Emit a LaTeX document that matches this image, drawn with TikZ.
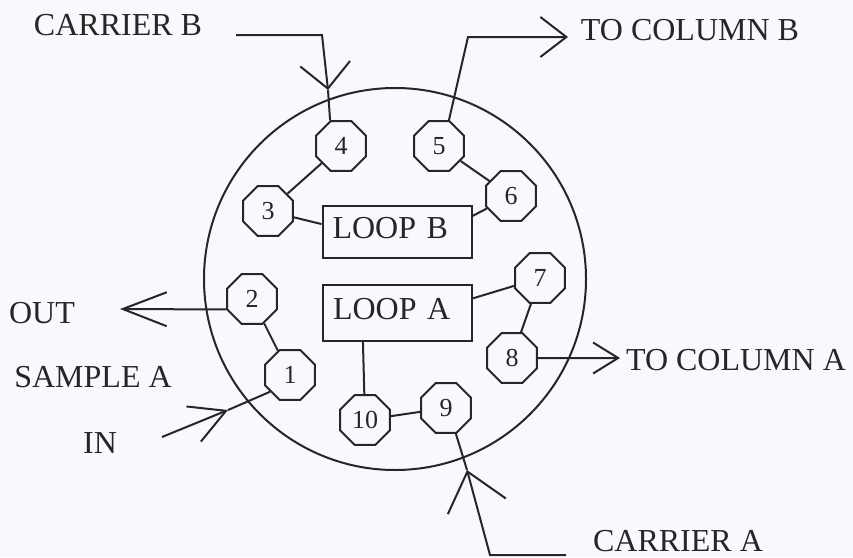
\documentclass[tikz,border=0pt]{standalone}
\usepackage{fontspec}
\setmainfont{Liberation Serif}
\usetikzlibrary{arrows.meta,positioning,shapes.geometric}
\definecolor{paper}{HTML}{F9F9FD}
\definecolor{ink}{HTML}{262626}
\tikzset{barb/.style 2 args={-{Straight Barb[length=#1pt,width=#2pt]}}}
\tikzset{port/.style={draw,regular polygon,regular polygon sides=8,minimum size=54pt,inner sep=0pt,line join=round,font=\fontsize{26}{28}\selectfont}}
\tikzset{loopbox/.style={draw,minimum height=#1,text width=129pt,inner xsep=10pt,inner ysep=0pt,align=left,text height=21pt,text depth=8pt}}
\tikzset{tag/.style={inner sep=0pt}}

\begin{document}
\begin{tikzpicture}[x=1pt,y=-1pt,line width=2pt,draw=ink,text=ink,font=\fontsize{32}{34}\selectfont]
        \useasboundingbox (0,0) rectangle (853,557);
        \fill[paper] (0,0) rectangle (853,557);
        \node(valve)[draw,circle,minimum size=382pt,inner sep=0pt] at (395,279){};
        \node(n1)[port] at (290,375){1};
        \node(n2)[port] at (252,299){2};
        \node(n3)[port] at (268,211){3};
        \node(n4)[port] at (341,146){4};
        \node(n5)[port] at (439,146){5};
        \node(n6)[port] at (511,196){6};
        \node(n7)[port] at (540,278){7};
        \node(n8)[port] at (512,358){8};
        \node(n9)[port] at (446,408){9};
        \node(n10)[port] at (365,420){10};
        \node(loopB)[loopbox=52pt] at (397,232){LOOP B};
        \node(loopA)[loopbox=56pt] at (397.5,313){LOOP A};
        \node(carrierB)[tag] at (118,25){CARRIER B};
        \node(columnB)[tag] at (690,30){TO COLUMN B};
        \node(columnA)[tag] at (736,360){TO COLUMN A};
        \node(out)[tag] at (42,313){OUT};
        \node(sample)[tag] at (93,377){SAMPLE A};
        \node(in)[tag] at (100,443){IN};
        \node(carrierA)[tag] at (678,541){CARRIER A};
        % free ends, knees and tips
        \coordinate(cbS) at (236,35);
        \coordinate(cbK) at (322,35);
        \coordinate(cbT) at (328,90);
        \coordinate(tbK) at (468,37);
        \coordinate(tbT) at (568,37);
        \coordinate(taT) at (620,358);
        \coordinate(outT) at (120,309);
        \coordinate(inS) at (162,437);
        \coordinate(inT) at (228,410);
        \coordinate(caS) at (566,555);
        \coordinate(caK) at (490,555);
        \coordinate(caT) at (467,470);
        \draw
        (n1) -- (n2)
        (n3) -- (n4)
        (n5) -- (n6)
        (n7) -- (n8)
        (n9) -- (n10)
        (n3) -- (loopB.174)
        (n6) -- (loopB.12)
        (n7) -- (loopA.11)
        (n10) -- (loopA.220);
        \draw[barb={25}{50}] (cbS) -- (cbK) -- (cbT);
        \draw (cbT) -- (n4.113);
        \draw[barb={26}{40}] (n5.69) -- (tbK) -- (tbT);
        \draw[barb={25}{31}] (n8) -- (taT);
        \draw[barb={44}{34}] (n2.202) -- (outT);
        \draw[barb={35}{38}] (inS) -- (inT);
        \draw (inT) -- (n1.220);
        \draw[barb={36}{60}] (caS) -- (caK) -- (caT);
        \draw (caT) -- (n9.-69);
      \end{tikzpicture}
\end{document}
